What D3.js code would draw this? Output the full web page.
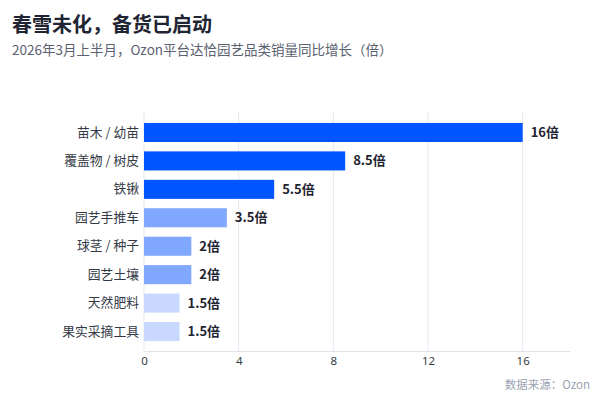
<!DOCTYPE html>
<html><head><meta charset="utf-8">
<script src="https://cdn.jsdelivr.net/npm/d3@7"></script>
<style>
body{margin:0;background:#fff;}
svg{display:block;font-family:"Noto Sans CJK SC","Noto Sans",sans-serif;}
</style></head>
<body>
<svg id="c" width="600" height="400"></svg>
<script>
const categories = ["苗木 / 幼苗","覆盖物 / 树皮","铁锹","园艺手推车","球茎 / 种子","园艺土壤","天然肥料","果实采摘工具"];
const values = [16, 8.5, 5.5, 3.5, 2, 2, 1.5, 1.5];
const valueLabels = ["16倍","8.5倍","5.5倍","3.5倍","2倍","2倍","1.5倍","1.5倍"];
const tiers = [0,0,0,1,1,1,2,2];
const tierColors = ["#0055FF","#80A8FF","#C8D8FF"];
const xTicks = [0,4,8,12,16];

const svg = d3.select("#c");
svg.append("rect").attr("width",600).attr("height",400).attr("fill","#fff");

svg.append("text").attr("x",12).attr("y",32).attr("font-size",20).attr("font-weight",700)
  .attr("fill","#1f2533").text("春雪未化，备货已启动");
svg.append("text").attr("x",12).attr("y",55).attr("font-size",13.5)
  .attr("fill","#5a6170").text("2026年3月上半月，Ozon平台达恰园艺品类销量同比增长（倍）");

const x = d3.scaleLinear().domain([0,18]).range([144,570]);
const y = d3.scaleBand().domain(categories).range([113,351]).paddingInner(0.33).paddingOuter(0.35);

// grid
svg.append("g").selectAll("line").data(xTicks).join("line")
  .attr("x1",d=>x(d)).attr("x2",d=>x(d)).attr("y1",112).attr("y2",351)
  .attr("stroke","#e6e9ef").attr("stroke-width",1);

// bars
svg.append("g").selectAll("rect").data(categories).join("rect")
  .attr("x",x(0)).attr("y",d=>y(d))
  .attr("width",(d,i)=>x(values[i])-x(0)).attr("height",y.bandwidth())
  .attr("fill",(d,i)=>tierColors[tiers[i]]);

// value labels
svg.append("g").selectAll("text").data(categories).join("text")
  .attr("x",(d,i)=>x(values[i])+8).attr("y",d=>y(d)+y.bandwidth()/2)
  .attr("dy","0.35em").attr("font-size",13).attr("font-weight",700)
  .attr("fill","#1f2533").text((d,i)=>valueLabels[i]);

// y axis labels
const yAxis = svg.append("g").attr("transform",`translate(${x(0)},0)`)
  .call(d3.axisLeft(y).tickSize(0).tickPadding(5));
yAxis.select(".domain").remove();
yAxis.selectAll("text").attr("font-size",12.8).attr("fill","#333a45")
  .attr("font-family","\"Noto Sans CJK SC\",sans-serif");

// x axis
const xAxis = svg.append("g").attr("transform","translate(0,351)")
  .call(d3.axisBottom(x).tickValues(xTicks).tickSize(0).tickPadding(6).tickFormat(d3.format("d")));
xAxis.select(".domain").attr("stroke","#dfe3ea");
xAxis.selectAll("text").attr("font-size",11.5).attr("fill","#333a45")
  .attr("font-family","\"Noto Sans\",sans-serif");

svg.append("text").attr("x",590).attr("y",389).attr("text-anchor","end")
  .attr("font-size",11.5).attr("fill","#9aa3b2").text("数据来源：Ozon");
</script>
</body></html>
